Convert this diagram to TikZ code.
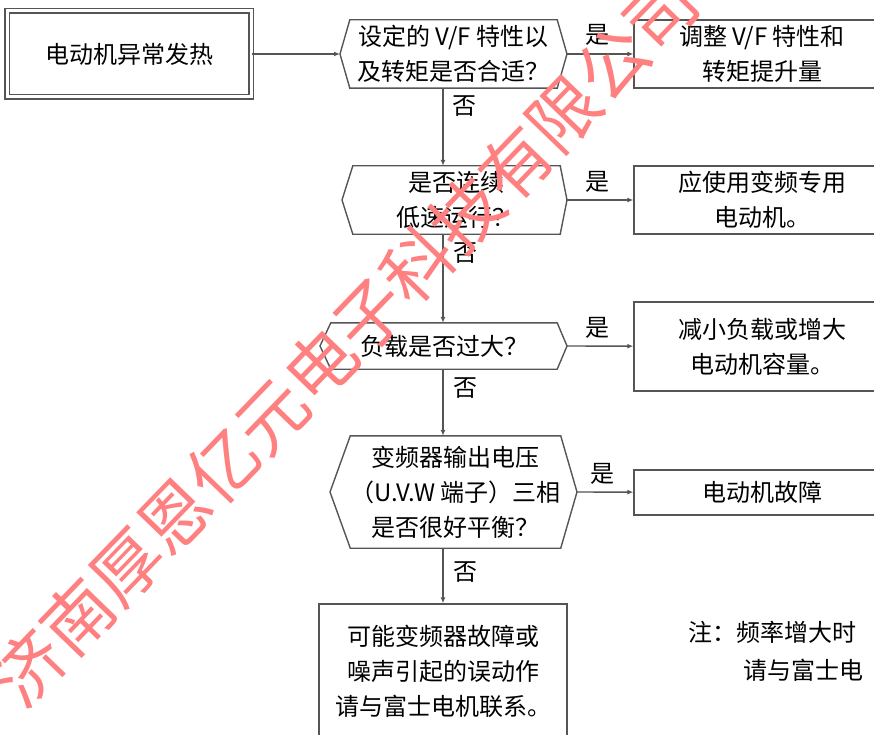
\documentclass[tikz,border=0pt]{standalone}
\usepackage{fontspec}
\usepackage{tikz}
\usetikzlibrary{arrows.meta}
\newfontfamily\cjk{Noto Sans CJK SC}
\definecolor{edgegray}{HTML}{555555}
\definecolor{wmred}{HTML}{FF8080}

\tikzset{
  box/.style={draw=edgegray, line width=1.4pt, inner sep=0pt, align=center},
  ask/.style={inner sep=0pt, align=center},
  hexline/.style={draw=edgegray, line width=1.4pt, line join=miter},
  link/.style={edgegray, line width=1.4pt, -{Latex[length=6pt,width=5pt]}},
  lbl/.style={inner sep=0pt},
}

\begin{document}
\begin{tikzpicture}[x=1pt, y=-1pt, font=\cjk\fontsize{24}{35}\selectfont]
  \useasboundingbox (0,0) rectangle (874,735);
  \clip (0,0) rectangle (874,735);

  % start
  \node[box, double, double distance=3pt, minimum width=244, minimum height=86] (start) at (129,54) {电动机异常发热};

  % questions
  \node[ask, minimum width=207, minimum height=68] (q1) at (453.5,54) {设定的 V/F 特性以\\及转矩是否合适？};
  \coordinate (q1w) at (340,54);
  \coordinate (q1e) at (567,54);
  \draw[hexline] (q1.north west) -- (q1.north east) -- (q1e) -- (q1.south east) -- (q1.south west) -- (q1w) -- cycle;

  \node[ask, minimum width=207, minimum height=68] (q2) at (456.5,200) {是否连续\\低速运行？};
  \coordinate (q2w) at (342,200);
  \coordinate (q2e) at (567,200);
  \draw[hexline] (q2.north west) -- (q2.north east) -- (q2e) -- (q2.south east) -- (q2.south west) -- (q2w) -- cycle;

  \node[ask, minimum width=226, minimum height=46] (q3) at (444,346) {负载是否过大？};
  \coordinate (q3w) at (320,346);
  \coordinate (q3e) at (567,346);
  \draw[hexline] (q3.north west) -- (q3.north east) -- (q3e) -- (q3.south east) -- (q3.south west) -- (q3w) -- cycle;

  \node[ask, minimum width=205, minimum height=112] (q4) at (455.5,492) {变频器输出电压\\（U.V.W 端子）三相\\是否很好平衡？};
  \coordinate (q4w) at (330,492);
  \coordinate (q4e) at (577,492);
  \draw[hexline] (q4.north west) -- (q4.north east) -- (q4e) -- (q4.south east) -- (q4.south west) -- (q4w) -- cycle;

  % answers
  \node[box, minimum width=256, minimum height=68] (r1) at (762,54) {调整 V/F 特性和\\转矩提升量};
  \node[box, minimum width=256, minimum height=68] (r2) at (762,200) {应使用变频专用\\电动机。};
  \node[box, minimum width=256, minimum height=89] (r3) at (762,346.5) {减小负载或增大\\电动机容量。};
  \node[box, minimum width=256, minimum height=45] (r4) at (762,492.5) {电动机故障};
  \node[box, minimum width=248, minimum height=134] (r5) at (443,671) {可能变频器故障或\\噪声引起的误动作\\请与富士电机联系。};

  % connectors
  \coordinate (spine) at (443,0);
  \draw[link] (start.east) -- (q1w);
  \draw[link] (q1e) -- (r1);
  \draw[link] (q2e) -- (r2);
  \draw[link] (q3e) -- (r3);
  \draw[link] (q4e) -- (r4);
  \draw[link] (q1.south -| spine) -- (q2.north -| spine);
  \draw[link] (q2.south -| spine) -- (q3.north -| spine);
  \draw[link] (q3.south -| spine) -- (q4.north -| spine);
  \draw[link] (q4.south -| spine) -- (r5);

  \node[lbl] (yes1) at (597,35) {是};
  \node[lbl] (no1) at (464,106) {否};
  \node[lbl] (yes2) at (597,182) {是};
  \node[lbl] (no2) at (465,253) {否};
  \node[lbl] (yes3) at (597,328) {是};
  \node[lbl] (no3) at (465,388) {否};
  \node[lbl] (yes4) at (602,474) {是};
  \node[lbl] (no4) at (465,572) {否};

  % note
  \node[lbl, anchor=west] (note1) at (688,632) {注：频率增大时};
  \node[lbl, anchor=west] (note2) at (743,670) {请与富士电};

  % watermark
  \node[lbl, text=wmred, rotate=46, font=\cjk\fontsize{70}{70}\selectfont] (wm) at (345,340) {济南厚恩亿元电子科技有限公司};
\end{tikzpicture}
\end{document}
